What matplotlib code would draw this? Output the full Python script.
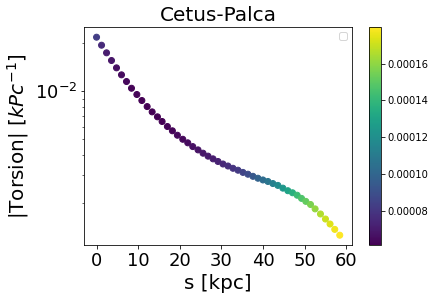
import numpy as np
import matplotlib
matplotlib.use("Agg")
import matplotlib.pyplot as plt

# arc length along the stream [kpc]
s = [0.0, 1.20, 2.40, 3.59, 4.79, 5.99, 7.19, 8.39, 9.68, 10.88,
     12.15, 13.35, 14.62, 15.74, 17.01, 18.21, 19.41, 20.70, 21.90, 23.10,
     24.37, 25.57, 26.77, 27.97, 29.16, 30.36, 31.56, 32.76, 33.96, 35.15,
     36.35, 37.55, 38.75, 39.95, 41.15, 42.34, 43.54, 44.74, 45.94, 47.06,
     48.17, 49.22, 50.25, 51.38, 52.48, 53.77, 54.97, 56.07, 57.20, 58.40]

# |torsion| [kpc^-1]
torsion = [0.02176, 0.01939, 0.01738, 0.01556, 0.01400, 0.01266, 0.01150, 0.01044, 0.00954, 0.00875,
           0.00802, 0.00743, 0.00692, 0.00647, 0.00602, 0.00566, 0.00531, 0.00501, 0.00476, 0.00451,
           0.00430, 0.00410, 0.00393, 0.00378, 0.00364, 0.00351, 0.00341, 0.00330, 0.00321, 0.00311,
           0.00303, 0.00294, 0.00286, 0.00279, 0.00273, 0.00265, 0.00258, 0.00248, 0.00239, 0.00232,
           0.00224, 0.00214, 0.00205, 0.00196, 0.00184, 0.00171, 0.00159, 0.00148, 0.00137, 0.00126]

# colour values (units of 1e-5)
cval = [8.26, 7.55, 7.08, 6.84, 6.60, 6.49, 6.37, 6.25, 6.25, 6.13,
        6.13, 6.13, 6.13, 6.13, 6.25, 6.25, 6.37, 6.37, 6.49, 6.60,
        6.72, 6.84, 6.96, 7.08, 7.20, 7.43, 7.67, 7.91, 8.14, 8.50,
        8.86, 9.33, 9.80, 10.28, 10.75, 11.23, 11.82, 12.41, 13.00, 13.60,
        14.19, 14.66, 15.14, 15.61, 16.08, 16.56, 17.03, 17.39, 17.74, 17.98]
cval = np.array(cval) * 1e-5

xticks = [0, 10, 20, 30, 40, 50, 60]

fig = plt.figure(figsize=(435 / 72, 300 / 72), dpi=72)
ax = fig.add_axes([0.194, 0.183, 0.615, 0.726])
cax = fig.add_axes([0.849, 0.183, 0.026, 0.726])

sc = ax.scatter(s, torsion, c=cval, cmap="viridis")
ax.set_yscale("log")
ax.set_xticks(xticks)
ax.set_title("Cetus-Palca", fontsize=20)
ax.set_xlabel("s [kpc]", fontsize=20)
ax.set_ylabel("|Torsion| [$kPc^{-1}$]", fontsize=20)
ax.tick_params(axis="both", which="major", labelsize=18)
ax.legend(handles=[], loc="upper right")

cb = fig.colorbar(sc, cax=cax)
cb.ax.tick_params(labelsize=10)

fig.savefig("out.png", dpi=72)
